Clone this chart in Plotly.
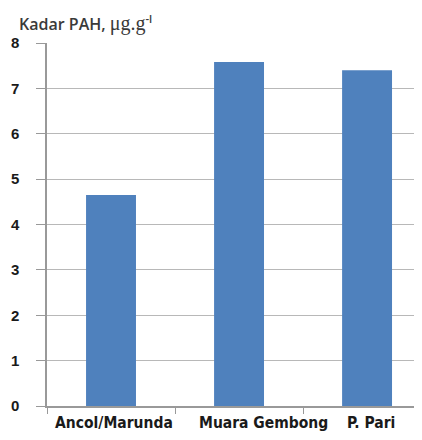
import plotly.graph_objects as go

categories = ["Ancol/Marunda", "Muara Gembong", "P. Pari"]
values = [4.65, 7.58, 7.40]
y_ticks = [0, 1, 2, 3, 4, 5, 6, 7, 8]

fig = go.Figure()
fig.add_trace(go.Bar(
    x=categories, y=values, width=0.39,
    marker=dict(color="#4F81BD", line=dict(width=0)),
))

label_shifts = [3, 24, 4]
for c, s in zip(categories, label_shifts):
    fig.add_annotation(x=c, y=0, xref="x", yref="y", text=c, showarrow=False,
                       yanchor="top", yshift=-6, xshift=s,
                       font=dict(family="DejaVu Sans Condensed, sans-serif",
                                 size=15.5, color="#1a1a1a", weight="bold"))

fig.add_annotation(
    xref="paper", yref="paper", x=-0.08, y=1.093, xanchor="left", yanchor="top",
    text="Kadar PAH, <span style='font-family:Liberation Serif;font-size:20px;font-weight:normal'>μg.g</span><sup>-l</sup>",
    showarrow=False,
    font=dict(family="Open Sans, sans-serif", size=16, color="#3a3a3a", weight=600))

fig.update_layout(
    width=422, height=440,
    margin=dict(l=39, r=13, t=35, b=42),
    plot_bgcolor="white", paper_bgcolor="white",
    showlegend=False,
)
fig.update_xaxes(
    type="category", range=[-0.5, 2.39], showticklabels=False, automargin=False,
    tickson="boundaries", ticks="outside", ticklen=6, tickcolor="#999",
    showline=True, linecolor="#999", linewidth=1.5, showgrid=False,
)
fig.update_yaxes(
    range=[0, 8], tickvals=y_ticks, ticks="outside", ticklen=9, tickcolor="#999",
    showline=True, linecolor="#999", linewidth=1.5, automargin=False,
    showgrid=True, gridcolor="#b8b8b8", gridwidth=1.2, zeroline=False,
    tickfont=dict(family="Liberation Sans, Arial, sans-serif", size=15, color="#1a1a1a", weight="bold"),
    ticklabelstandoff=14,
)
fig.write_html("out.html")
